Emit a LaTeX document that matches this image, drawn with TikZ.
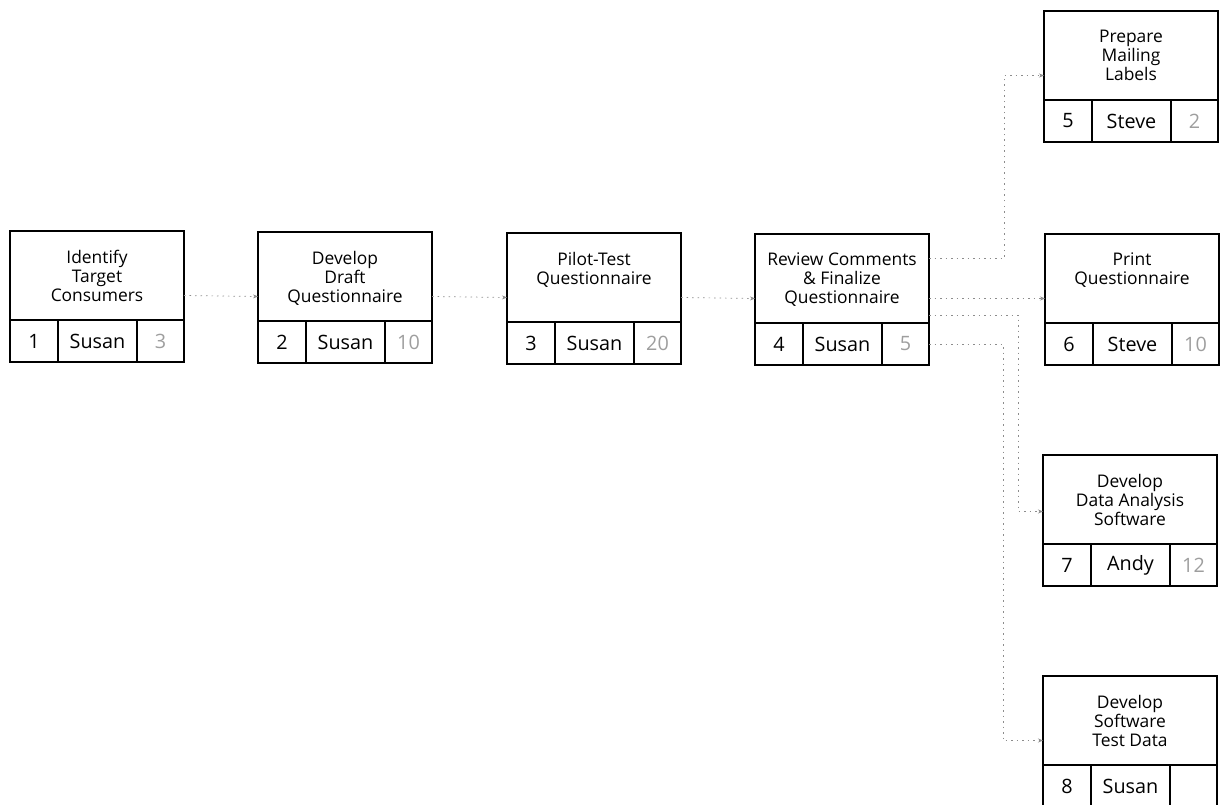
\documentclass[tikz,border=0pt]{standalone}
\usepackage{fontspec}
\setmainfont{Open Sans}
\usetikzlibrary{arrows.meta}
\definecolor{durgray}{gray}{0.62}
\definecolor{conngray}{gray}{0.55}
\tikzset{
  upbox/.style={draw=black, line width=1.1pt, minimum width=174pt, minimum height=89pt, inner sep=0pt, outer sep=0pt},
  cellbox/.style={draw=black, line width=1.1pt, minimum height=42pt, inner sep=0pt, outer sep=0pt, font=\fontsize{19.8}{23}\selectfont},
  titletext/.style={inner sep=0pt, outer sep=0pt, align=center, font=\fontsize{17.4}{19}\selectfont},
  conn/.style={draw=conngray, line width=0.7pt, dash pattern=on 1.5pt off 4pt, -{Stealth[length=5pt,width=4pt]}}
}
\newcommand{\taskbox}[7]{%
  \node[upbox, anchor=north west] (#1) at (#2) {};
  \node[titletext, anchor=north] (#1t) at ([yshift=-19pt]#1.north) {#3};
  \node[cellbox, minimum width=48pt, anchor=north west] (#1n) at (#1.south west) {#4};
  \node[cellbox, minimum width=79pt, anchor=north west] (#1p) at (#1n.north east) {#5};
  \node[cellbox, minimum width=47pt, anchor=north west] (#1d) at (#1p.north east) {\textcolor{durgray}{#6}};
}
\begin{document}
\begin{tikzpicture}[x=1pt,y=-1pt]
\useasboundingbox (0,0) rectangle (1220,805);
\taskbox{b1}{10,231}{Identify\\Target\\Consumers}{1}{Susan}{3}{}
\taskbox{b2}{258,232}{Develop\\Draft\\Questionnaire}{2}{Susan}{10}{}
\taskbox{b3}{507,233}{Pilot-Test\\Questionnaire}{3}{Susan}{20}{}
\taskbox{b4}{755,234}{Review Comments\\\& Finalize\\Questionnaire}{4}{Susan}{5}{}
\taskbox{b5}{1044,11}{Prepare\\Mailing\\Labels}{5}{Steve}{2}{}
\taskbox{b6}{1045,234}{Print\\Questionnaire}{6}{Steve}{10}{}
\taskbox{b7}{1043,455}{Develop\\Data Analysis\\Software}{7}{Andy}{12}{}
\taskbox{b8}{1043,676}{Develop\\Software\\Test Data}{8}{Susan}{}{}
% connectors
\draw[conn] ([yshift=-20pt]b1.east) -- ([yshift=-20pt]b2.west);
\draw[conn] ([yshift=-20pt]b2.east) -- ([yshift=-20pt]b3.west);
\draw[conn] ([yshift=-20pt]b3.east) -- ([yshift=-20pt]b4.west);
\draw[conn] ([yshift=20pt]b4.east) -- ++(75,0) |- ([yshift=-20pt]b5.west);
\draw[conn] ([yshift=-20pt]b4.east) -- ([yshift=-20pt]b6.west);
\draw[conn] ([yshift=8pt]b4.south east) -- ++(89,0) |- ([yshift=-12pt]b7.west);
\draw[conn] (b4d.east) -- ++(74,0) |- ([yshift=-20pt]b8.west);
\end{tikzpicture}
\end{document}
